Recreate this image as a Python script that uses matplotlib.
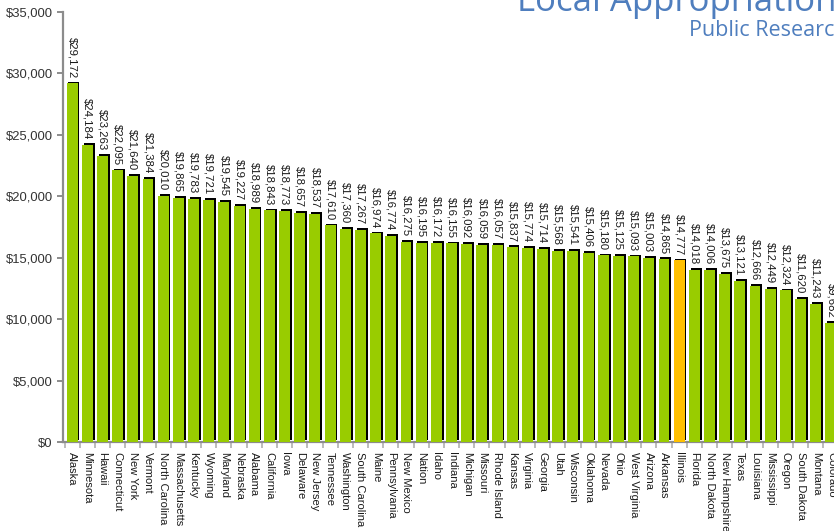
import matplotlib
matplotlib.use("Agg")
import matplotlib.pyplot as plt
import matplotlib.patheffects as pe
from matplotlib.ticker import FixedLocator, FuncFormatter
import numpy as np

states = [
    "Alaska", "Minnesota", "Hawaii", "Connecticut", "New York", "Vermont",
    "North Carolina", "Massachusetts", "Kentucky", "Wyoming", "Maryland",
    "Nebraska", "Alabama", "California", "Iowa", "Delaware", "New Jersey",
    "Tennessee", "Washington", "South Carolina", "Maine", "Pennsylvania",
    "New Mexico", "Nation", "Idaho", "Indiana", "Michigan", "Missouri",
    "Rhode Island", "Kansas", "Virginia", "Georgia", "Utah", "Wisconsin",
    "Oklahoma", "Nevada", "Ohio", "West Virginia", "Arizona", "Arkansas",
    "Illinois", "Florida", "North Dakota", "New Hampshire", "Texas",
    "Louisiana", "Mississippi", "Oregon", "South Dakota", "Montana", "Colorado",
]
appropriation = [
    29172, 24184, 23263, 22095, 21640, 21384, 20010, 19865, 19783, 19721,
    19545, 19227, 18989, 18843, 18773, 18657, 18537, 17610, 17360, 17267,
    16974, 16774, 16275, 16195, 16172, 16155, 16092, 16059, 16057, 15837,
    15774, 15714, 15568, 15541, 15406, 15180, 15125, 15093, 15003, 14865,
    14777, 14018, 14006, 13675, 13121, 12666, 12449, 12324, 11620, 11243,
    9682,
]
highlight = "Illinois"
y_ticks = [0, 5000, 10000, 15000, 20000, 25000, 30000, 35000]

title_text = "Local Appropriations"
subtitle_text = "Public Research Universities"

GREEN = "#99CC00"
ORANGE = "#FFC000"
AXIS_GRAY = "#8C8C8C"
TEXT = "#1a1a1a"
BLUE = "#4F7EBE"

plt.rcParams["font.family"] = ["Liberation Sans", "DejaVu Sans"]

W, H = 834, 531
fig = plt.figure(figsize=(W / 100, H / 100), dpi=100)

left_px, right_px = 63, 838.5
top_px, bottom_px = 11.7, 442
ax = fig.add_axes([left_px / W, (H - bottom_px) / H,
                   (right_px - left_px) / W, (bottom_px - top_px) / H])

x = np.arange(len(states))
colors = [ORANGE if s == highlight else GREEN for s in states]
bars = ax.bar(x, appropriation, width=0.72, color=colors, zorder=3)
for b in bars:
    b.set_path_effects([
        pe.SimplePatchShadow(offset=(1.3, 1.3), shadow_rgbFace="black", alpha=1.0),
        pe.Normal(),
    ])

ax.set_xlim(-0.6, len(states) - 0.5)
ax.set_ylim(0, 35000)

# value labels above each bar, reading top to bottom
for xi, v in zip(x, appropriation):
    ax.annotate(f"${v:,}", xy=(xi, v), xytext=(0, 4), textcoords="offset points",
                rotation=270, ha="center", va="bottom", fontsize=8.2,
                color=TEXT, annotation_clip=False)

for side in ("top", "right"):
    ax.spines[side].set_visible(False)
for side in ("left", "bottom"):
    ax.spines[side].set_color(AXIS_GRAY)
    ax.spines[side].set_linewidth(1.6)

ax.yaxis.set_major_locator(FixedLocator(y_ticks))
ax.yaxis.set_major_formatter(FuncFormatter(lambda v, _: f"${int(v):,}"))
ax.tick_params(axis="y", direction="out", length=4, width=1.4, color=AXIS_GRAY,
               labelsize=9.4, labelcolor="#333333", pad=3.5)

ax.set_xticks(x)
ax.set_xticklabels(states, rotation=270, fontsize=8.0, color=TEXT)
ax.set_xticks(np.arange(-0.5, len(states), 1.0), minor=True)
ax.tick_params(axis="x", which="major", length=0, pad=7)
ax.tick_params(axis="x", which="minor", direction="out", length=4, width=1.2,
               color="#b0b0b0")
for lbl in ax.get_xticklabels():
    lbl.set_va("top")
    lbl.set_ha("center")

fig.text(517 / W, 1 - 11 / H, title_text, fontsize=25, color=BLUE,
         ha="left", va="baseline", family=["Open Sans", "DejaVu Sans"])
fig.text(689 / W, 1 - 36 / H, subtitle_text, fontsize=15.5, color=BLUE,
         ha="left", va="baseline", family=["Open Sans", "DejaVu Sans"])

fig.savefig("out.png", dpi=100)
